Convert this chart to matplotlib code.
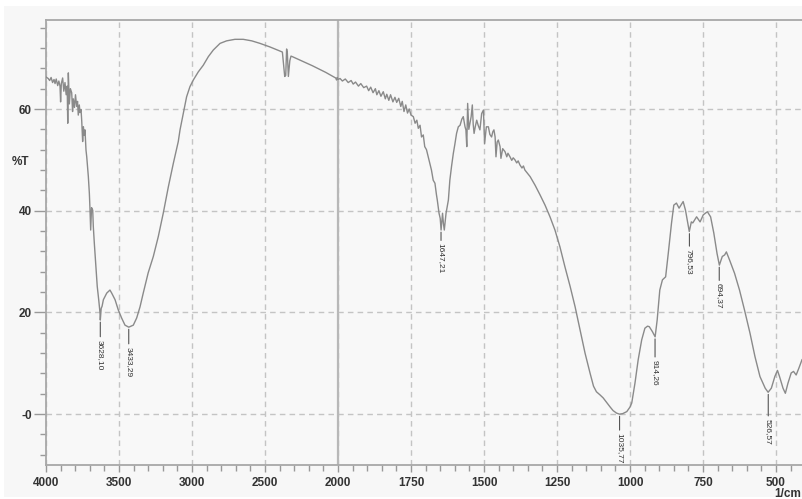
import numpy as np
import matplotlib
matplotlib.use('Agg')
import matplotlib.pyplot as plt
from matplotlib.patches import Rectangle
from matplotlib.ticker import FixedLocator

# wavenumber (1/cm) and transmittance (%T)
wavenumber = [4000, 3985, 3975, 3965, 3955, 3945, 3938, 3930, 3920, 3912, 3904, 3900, 3895, 3886,
              3878, 3870, 3862, 3855, 3851, 3847, 3840, 3833, 3824, 3818, 3813, 3805, 3798, 3790,
              3784, 3779, 3772, 3767, 3760, 3755, 3749, 3744, 3738, 3733, 3726, 3721, 3715, 3710,
              3703, 3699, 3694, 3688, 3680, 3676, 3669, 3658, 3649, 3639, 3630, 3628, 3622, 3616,
              3607, 3596, 3584, 3573, 3562, 3550, 3527, 3505, 3482, 3459, 3433, 3402, 3379, 3356,
              3334, 3300, 3265, 3231, 3197, 3162, 3128, 3094, 3082, 3060, 3037, 3014, 2991, 2957, 2923,
              2888, 2854, 2808, 2763, 2706, 2649, 2591, 2534, 2466, 2397, 2381, 2365, 2358, 2352,
              2347, 2340, 2330, 2322, 2313, 2260, 2175, 2084, 2016, 2010, 2005, 2000,
              1993, 1985, 1975, 1965, 1955, 1948, 1940, 1930, 1922, 1912, 1902, 1895, 1888, 1880,
              1872, 1867, 1860, 1853, 1845, 1838, 1833, 1826, 1820, 1812, 1805, 1799, 1792, 1785,
              1780, 1774, 1768, 1762, 1756, 1750, 1742, 1736, 1730, 1725, 1719, 1714, 1708, 1703,
              1697, 1691, 1686, 1680, 1674, 1668, 1663, 1660, 1654, 1650, 1647, 1642, 1639, 1636,
              1630, 1622, 1617, 1611, 1605, 1600, 1594, 1588, 1582, 1576, 1571, 1565, 1562, 1559,
              1556, 1552, 1548, 1544, 1540, 1537, 1534, 1530, 1525, 1520, 1514, 1508, 1502, 1498,
              1492, 1485, 1480, 1474, 1470, 1466, 1462, 1459, 1455, 1451, 1445, 1442, 1436, 1428,
              1422, 1418, 1411, 1405, 1400, 1394, 1388, 1383, 1377, 1370, 1365, 1360, 1342, 1325,
              1308, 1291, 1274, 1257, 1240, 1223, 1205, 1188, 1171, 1154, 1137, 1125, 1115, 1103,
              1092, 1080, 1068, 1058, 1046, 1036, 1025, 1011, 1000, 994, 983, 972, 960, 949,
              940, 934, 923, 914, 907, 898, 889, 878, 869, 858, 850, 841, 832, 818,
              810, 797, 790, 785, 772, 760, 749, 735, 724, 713, 702, 694, 684, 676,
              670, 659, 642, 625, 608, 589, 572, 555, 537, 527, 516, 504, 495, 488,
              476, 468, 459, 448, 440, 431, 422, 411]
transmittance = [66.3, 66.0, 65.6, 66.2, 65.2, 65.8, 65.0, 65.9, 64.6, 65.5, 64.5, 61.4, 65.0, 66.1,
                 63.5, 65.2, 62.8, 64.5, 57.2, 67.1, 61.0, 64.0, 63.2, 59.5, 62.0, 60.3, 62.8, 60.5,
                 61.5, 58.8, 60.8, 59.3, 59.9, 57.5, 53.6, 56.5, 54.8, 55.9, 51.9, 50.6, 48.5, 46.7,
                 43.4, 40.5, 36.2, 40.6, 40.1, 36.9, 33.6, 29.0, 25.1, 22.5, 19.9, 18.5, 20.8, 21.2,
                 22.5, 23.1, 23.8, 24.1, 24.4, 23.8, 22.5, 20.5, 18.9, 17.5, 17.1, 17.5, 18.9, 21.1,
                 23.8, 27.8, 31.0, 34.9, 39.5, 44.7, 49.3, 53.6, 55.9, 59.1, 62.4, 64.4, 65.7, 67.3, 68.6,
                 70.3, 71.6, 72.9, 73.4, 73.7, 73.7, 73.4, 72.9, 72.2, 71.4, 71.2, 66.4, 66.6, 71.8,
                 71.0, 66.4, 69.5, 70.4, 70.3, 69.6, 68.5, 67.2, 66.1, 65.7, 66.2, 65.8,
                 66.0, 65.5, 65.9, 65.2, 65.6, 64.9, 65.3, 64.5, 65.0, 64.2, 64.5, 63.6, 64.3, 63.2,
                 64.0, 62.8, 63.6, 62.5, 63.4, 62.0, 62.9, 61.7, 62.8, 61.4, 62.3, 61.3, 62.1, 60.5,
                 61.5, 59.5, 60.8, 59.2, 60.0, 58.8, 58.5, 57.2, 57.8, 56.2, 56.8, 54.5, 54.9, 52.6,
                 52.0, 50.6, 49.5, 48.0, 46.0, 45.4, 43.2, 42.1, 39.5, 38.5, 36.2, 39.5, 37.5, 36.2,
                 39.5, 42.1, 46.0, 48.8, 51.3, 53.0, 55.2, 56.5, 56.8, 58.0, 58.5, 56.5, 55.9, 52.6,
                 61.1, 56.0, 57.2, 58.5, 60.8, 57.0, 55.2, 56.5, 57.8, 56.8, 55.9, 59.1, 59.8, 53.2,
                 56.5, 56.5, 55.0, 54.5, 55.5, 55.9, 54.5, 50.6, 53.5, 53.9, 52.6, 50.3, 52.2, 51.6,
                 50.6, 51.3, 50.6, 49.9, 50.4, 50.0, 49.4, 49.8, 49.0, 48.4, 48.8, 48.0, 46.7, 45.0,
                 43.1, 41.1, 38.8, 36.2, 32.9, 29.0, 25.1, 21.1, 16.6, 12.0, 8.1, 5.5, 4.4, 3.8,
                 3.2, 2.3, 1.4, 0.7, 0.2, 0.0, 0.1, 0.5, 1.4, 2.2, 6.1, 10.7, 14.6, 16.9,
                 17.3, 17.2, 16.2, 15.2, 18.5, 24.4, 26.4, 27.0, 31.6, 37.5, 41.1, 41.5, 40.5, 41.8,
                 40.1, 35.9, 37.8, 37.6, 38.8, 37.8, 39.2, 39.8, 38.8, 35.6, 31.6, 29.3, 31.0, 31.3,
                 31.9, 30.3, 27.7, 24.4, 20.5, 15.9, 11.3, 7.4, 5.1, 4.3, 5.1, 7.4, 8.6, 7.4,
                 5.1, 4.1, 6.1, 8.1, 8.4, 7.7, 9.0, 10.7]

# picked peaks
peak_wn = [3628.10, 3433.29, 1647.21, 1035.77, 914.26, 796.53, 694.37, 526.57]
peak_t = [18.5, 17.1, 36.2, 0.0, 15.2, 35.9, 29.3, 4.3]
peak_labels = ['3628,10', '3433,29', '1647,21', '1035,77', '914,26', '796,53', '694,37', '526,57']
label_drop = [14, 14, 9.5, 13.5, 16.5, 12.5, 13, 19]   # points below the peak

x_major = [4000, 3500, 3000, 2500, 2000, 1750, 1500, 1250, 1000, 750, 500]
x_major_labels = ['4000', '3500', '3000', '2500', '2000', '1750', '1500', '1250', '1000', '750', '500']
y_major = [0, 20, 40, 60]
y_major_labels = ['-0', '20', '40', '60']


# x axis is stretched two-fold below 2000 1/cm
def fwd(x):
    x = np.asarray(x, dtype=float)
    return np.where(x >= 2000, x, 2 * x - 2000)


def inv(u):
    u = np.asarray(u, dtype=float)
    return np.where(u >= 2000, u, (u + 2000) / 2)


plt.rcParams['font.family'] = ['Liberation Sans', 'DejaVu Sans']

fig = plt.figure(figsize=(8.02, 4.99), dpi=100)
fig.patch.set_facecolor('white')
fig.patches.append(Rectangle((4 / 802, 2 / 499), 798 / 802, 491 / 499, transform=fig.transFigure,
                             facecolor='#f7f7f7', edgecolor='none', zorder=-10))

ax = fig.add_axes([46 / 802, 34 / 499, 756 / 802, 445 / 499])
ax.set_facecolor('#f8f8f8')
ax.set_xscale('function', functions=(fwd, inv))
ax.set_xlim(4000, 411)
ax.set_ylim(-10, 77.5)

ax.plot(wavenumber, transmittance, color='#8a8a8a', lw=1.0, zorder=3)

ax.xaxis.set_major_locator(FixedLocator(x_major))
ax.set_xticklabels(x_major_labels)
ax.xaxis.set_minor_locator(FixedLocator(list(np.arange(4000, 2000, -100)) + list(np.arange(1950, 400, -50))))
ax.yaxis.set_major_locator(FixedLocator(y_major))
ax.set_yticklabels(y_major_labels)
ax.yaxis.set_minor_locator(FixedLocator(np.arange(-8, 78, 4)))

ax.grid(which='major', color='#c4c4c4', lw=1.0, ls=(0, (4, 3)), zorder=1)
ax.axvline(2000, color='#b8b8b8', lw=1.6, zorder=2)

for s in ['left', 'bottom', 'top']:
    ax.spines[s].set_color('#a8a8a8')
    ax.spines[s].set_linewidth(1.3)
ax.spines['right'].set_visible(False)

ax.tick_params(axis='y', which='major', length=9, width=1, color='#999999', pad=1,
               labelsize=8.5, labelcolor='#333333')
ax.tick_params(axis='y', which='minor', length=4.5, width=1, color='#999999')
ax.tick_params(axis='x', which='major', length=5, width=1, color='#999999', pad=4,
               labelsize=8.5, labelcolor='#333333')
ax.tick_params(axis='x', which='minor', length=4, width=1, color='#999999')
for lab in ax.get_xticklabels() + ax.get_yticklabels():
    lab.set_fontweight('bold')

for wn, t, lab, d in zip(peak_wn, peak_t, peak_labels, label_drop):
    ax.annotate(lab, xy=(wn, t), xytext=(0, -d), textcoords='offset points',
                rotation=270, ha='center', va='top', fontsize=6, color='#333333',
                arrowprops=dict(arrowstyle='-', color='#555555', lw=0.8, shrinkA=0, shrinkB=1.5),
                zorder=4)

fig.text(12 / 802, 1 - 162 / 499, '%T', fontsize=8.5, fontweight='bold', color='#333333', va='center')
fig.text(801 / 802, 1 - 494 / 499, '1/cm', fontsize=8.5, fontweight='bold', color='#333333',
         va='center', ha='right')

fig.savefig('out.png', dpi=100)
